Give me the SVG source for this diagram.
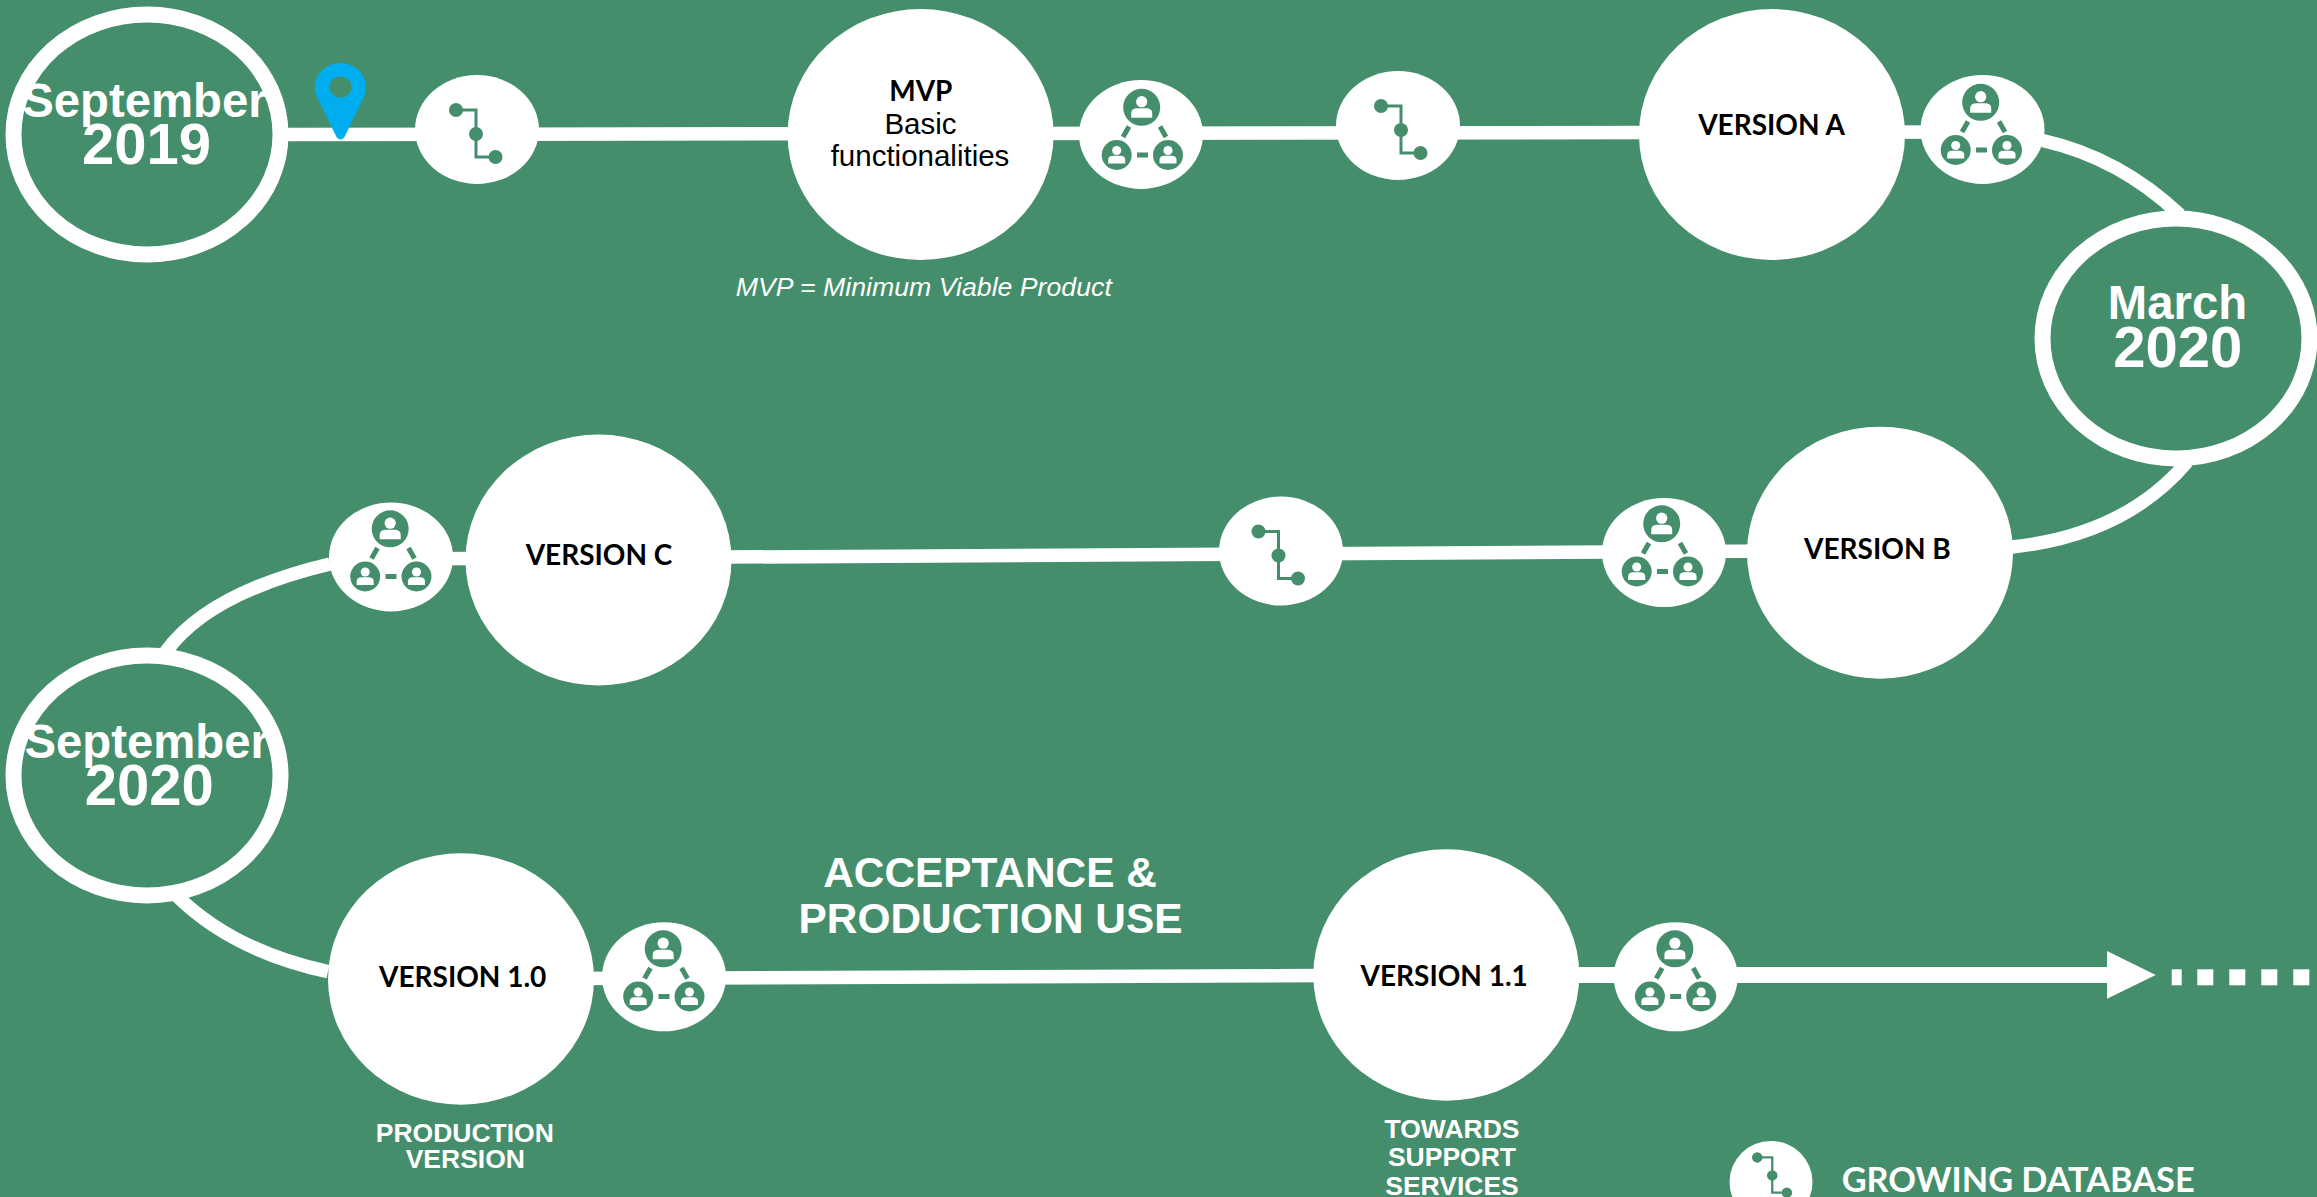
<svg xmlns="http://www.w3.org/2000/svg" width="2317" height="1197" viewBox="0 0 2317 1197">
<style>
.ring{fill:#458E6C;stroke:#fff;stroke-width:16}
.w{fill:#fff}
.g{fill:#458E6C}
.conn{fill:none;stroke:#fff;stroke-width:13.5}
.date{font-family:"Liberation Sans",Arial,sans-serif;font-weight:700;fill:#fff;text-anchor:middle}
.m{font-size:47.3px}
.y{font-size:58px}
.ver{font-family:Lato,"Open Sans",sans-serif;font-weight:700;font-size:28px;fill:#000;text-anchor:middle}
.cap{font-family:"Liberation Sans",Arial,sans-serif;font-weight:700;font-size:26.5px;fill:#fff;text-anchor:middle}
.big{font-family:"Liberation Sans",Arial,sans-serif;font-weight:700;font-size:42.4px;fill:#fff;text-anchor:middle}
.body{font-family:"Liberation Sans",Arial,sans-serif;font-size:29.5px;fill:#000;text-anchor:middle}
</style>
<defs>
<g id="person">
<circle class="g" r="18.5"/>
<circle class="w" cy="-5.6" r="5.6"/>
<path class="w" d="M-10.5 10.4V6Q-10.5 1-4 1H4Q10.5 1 10.5 6V10.4Z"/>
</g>
<g id="peopleGlyph">
<use href="#person" x="0.7" y="-27.2"/>
<use href="#person" transform="translate(-24.3 20.5) scale(.81)"/>
<use href="#person" transform="translate(27 20.5) scale(.81)"/>
<path d="M-12 -8L-18 2.500M19 -8L25 2.500M-4 20.500H7" fill="none" stroke="#458E6C" stroke-width="5"/>
</g>
<g id="dbGlyph">
<path d="M-21 -19.500H-1V27.500H18.500" fill="none" stroke="#458E6C" stroke-width="3"/>
<circle class="g" cx="-21" cy="-19.500" r="7"/>
<circle class="g" cx="-1" cy="4.500" r="7"/>
<circle class="g" cx="18.500" cy="27.500" r="7"/>
</g>
<ellipse id="blob" class="w" rx="62" ry="54.500"/>
</defs>
<rect width="2317" height="1197" fill="#458E6C"/>
<g id="connectors">
<path class="conn" d="M281 134.500L1985 132"/>
<path class="conn" d="M2042.700 140.500Q2120 158 2180 215"/>
<path class="conn" d="M2187 462Q2125 535 2012 547"/>
<path class="conn" d="M391 559L1880 550.500"/>
<path class="conn" d="M330 564Q208 593 165.700 652"/>
<path class="conn" d="M176 895Q232.500 951 328 971.700"/>
<path class="conn" d="M461 979L1447 975"/>
<path d="M1447 975H2110" fill="none" stroke="#fff" stroke-width="16"/>
<polygon class="w" points="2107,951 2155.700,975 2107,998.700"/>
<g id="dots" class="w">
<rect x="2171.700" y="969.300" width="10" height="16"/>
<rect x="2197.300" y="969.300" width="16" height="16"/>
<rect x="2229.300" y="969.300" width="16" height="16"/>
<rect x="2261.300" y="969.300" width="16" height="16"/>
<rect x="2293.300" y="969.300" width="16" height="16"/>
</g>
</g>
<g id="sep2019">
<ellipse class="ring" cx="147" cy="134.500" rx="133.500" ry="120"/>
<text class="date m" x="144.500" y="116.700">September</text>
<text class="date y" x="146.500" y="164">2019</text>
</g>
<g id="pin">
<path fill="#00ADEF" d="M340.500 63C354.600 63 366 73.700 366 87C366 92 365 95 362 101L344.500 137Q340.500 142 336.500 137L319 101C316 95 315 92 315 87C315 73.700 326.400 63 340.500 63Z"/>
<ellipse class="g" cx="340.500" cy="87" rx="11" ry="10.500"/>
</g>
<g id="db1"><use href="#blob" x="477" y="129.500"/><use href="#dbGlyph" x="477" y="129.500"/></g>
<g id="mvp">
<ellipse class="w" cx="920.600" cy="134.500" rx="133" ry="125.500"/>
<text class="ver" x="920.800" y="101">MVP</text>
<text class="body" x="920.500" y="134">Basic</text>
<text class="body" x="920" y="165.700">functionalities</text>
</g>
<text id="mvpNote" x="923.800" y="295.700" font-family="'Liberation Sans',Arial,sans-serif" font-style="italic" font-size="26.700" fill="#fff" text-anchor="middle">MVP = Minimum Viable Product</text>
<g id="people1"><use href="#blob" x="1141" y="134.500"/><use href="#peopleGlyph" x="1141" y="134.500"/></g>
<g id="db2"><use href="#blob" x="1398" y="125.500"/><use href="#dbGlyph" x="1402" y="125.500"/></g>
<g id="versionA">
<ellipse class="w" cx="1772" cy="134.500" rx="133" ry="125.500"/>
<text class="ver" x="1771.500" y="135">VERSION A</text>
</g>
<g id="people2"><use href="#blob" x="1982.500" y="129.500"/><use href="#peopleGlyph" x="1980" y="129.500"/></g>
<g id="mar2020">
<ellipse class="ring" cx="2176" cy="338.500" rx="133.500" ry="120"/>
<text class="date m" x="2177.500" y="319.300">March</text>
<text class="date y" x="2177.800" y="367.300">2020</text>
</g>
<g id="versionB">
<ellipse class="w" cx="1880" cy="552.700" rx="133" ry="126"/>
<text class="ver" x="1877.400" y="559">VERSION B</text>
</g>
<g id="people3"><use href="#blob" x="1664" y="552.600"/><use href="#peopleGlyph" x="1661" y="551"/></g>
<g id="db3"><use href="#blob" x="1281" y="551"/><use href="#dbGlyph" x="1279.500" y="551"/></g>
<g id="versionC">
<ellipse class="w" cx="598.500" cy="560" rx="133" ry="125.500"/>
<text class="ver" x="599" y="565">VERSION C</text>
</g>
<g id="people4"><use href="#blob" x="391" y="557"/><use href="#peopleGlyph" x="389.500" y="556"/></g>
<g id="sep2020">
<ellipse class="ring" cx="147" cy="775.500" rx="133.500" ry="120"/>
<text class="date m" x="146.700" y="757.700">September</text>
<text class="date y" x="149.300" y="805">2020</text>
</g>
<g id="version10">
<ellipse class="w" cx="461" cy="979" rx="133" ry="125.700"/>
<text class="ver" x="462.700" y="986.700">VERSION 1.0</text>
<text class="cap" x="464.800" y="1141.700">PRODUCTION</text>
<text class="cap" x="465.300" y="1167.700">VERSION</text>
</g>
<g id="people5"><use href="#blob" x="664" y="976.800"/><use href="#peopleGlyph" x="662.500" y="976"/></g>
<g id="acceptance">
<text class="big" x="990" y="887.300">ACCEPTANCE &amp;</text>
<text class="big" x="990.500" y="932.700">PRODUCTION USE</text>
</g>
<g id="version11">
<ellipse class="w" cx="1446.300" cy="975" rx="133" ry="125.700"/>
<text class="ver" x="1444.200" y="985.700">VERSION 1.1</text>
<text class="cap" x="1452" y="1137.700">TOWARDS</text>
<text class="cap" x="1452" y="1166">SUPPORT</text>
<text class="cap" x="1452" y="1195">SERVICES</text>
</g>
<g id="people6"><use href="#blob" x="1675.700" y="976.800"/><use href="#peopleGlyph" x="1674.200" y="976"/></g>
<g id="legend">
<ellipse class="w" cx="1771" cy="1182" rx="41.500" ry="41"/>
<use href="#dbGlyph" transform="translate(1773 1172) scale(.75)"/>
<text x="1841.700" y="1192" font-family="Lato,'Open Sans',sans-serif" font-weight="700" font-size="34.300px" fill="#fff">GROWING DATABASE</text>
</g>
</svg>
